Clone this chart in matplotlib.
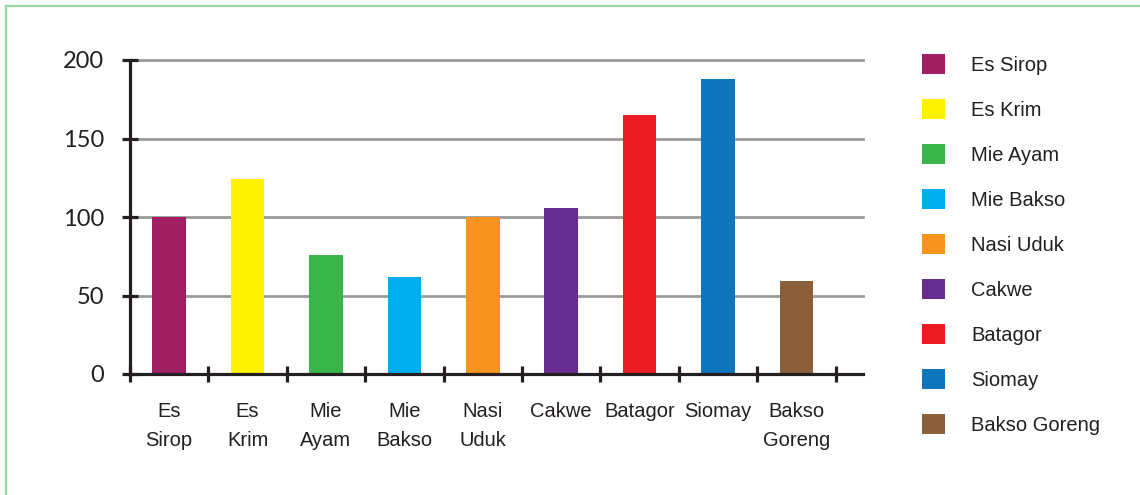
import numpy as np
import matplotlib.pyplot as plt
from matplotlib.lines import Line2D
from matplotlib import font_manager

# data
kategori = ["Es\nSirop", "Es\nKrim", "Mie\nAyam", "Mie\nBakso", "Nasi\nUduk",
            "Cakwe", "Batagor", "Siomay", "Bakso\nGoreng"]
legenda = ["Es Sirop", "Es Krim", "Mie Ayam", "Mie Bakso", "Nasi Uduk",
           "Cakwe", "Batagor", "Siomay", "Bakso Goreng"]
nilai = [100, 124, 76, 62, 100, 106, 165, 188, 59]
warna = ["#a01f62", "#fff200", "#39b54a", "#00aeef", "#f7941d",
         "#662d91", "#ed1c24", "#0f75bc", "#8b5e3c"]
yticks = [0, 50, 100, 150, 200]

# narrow font if we have it
names = {f.name for f in font_manager.fontManager.ttflist}
if "Liberation Sans Narrow" in names:
    lab_font, lab_size = "Liberation Sans Narrow", 16
else:
    lab_font, lab_size = "Liberation Sans", 14.5

W, H = 1140, 495
fig = plt.figure(figsize=(W/100, H/100), dpi=100)

# green frame (top + left only)
fig.add_artist(Line2D([5.5/W, 5.5/W], [0, 1-5.5/H], color="#98d8a0", lw=1.6, transform=fig.transFigure))
fig.add_artist(Line2D([5.5/W, 1], [1-5.5/H, 1-5.5/H], color="#98d8a0", lw=1.6, transform=fig.transFigure))

x0, x1 = 130, 863
y0, y1 = 374, 60
ax = fig.add_axes([x0/W, 1-y0/H, (x1-x0)/W, (y0-y1)/H])

n = len(nilai)
step = 78.4
xmax = (x1-x0)/step
pos = np.arange(n) + 0.5
bars = ax.bar(pos, nilai, width=0.43, color=warna, zorder=3)

ax.set_xlim(0, xmax)
ax.set_ylim(0, 200)

for v in yticks[1:]:
    ax.axhline(v, color="#9a9a9c", lw=2, zorder=1, clip_on=False)

for s in ["top", "right"]:
    ax.spines[s].set_visible(False)
for s in ["left", "bottom"]:
    ax.spines[s].set_color("#231f20")
    ax.spines[s].set_linewidth(2.3)
    ax.spines[s].set_zorder(4)

ax.set_yticks(yticks)
ax.set_yticklabels([str(v) for v in yticks], fontsize=17, family="Lato", color="#231f20")
ax.tick_params(axis="y", direction="inout", length=11, width=2.3, color="#231f20", pad=13)

# category ticks at bin edges, labels at centres
ax.set_xticks(np.arange(0, n+1))
ax.set_xticklabels([])
ax.set_xticks(pos, minor=True)
ax.set_xticklabels(kategori, minor=True, fontsize=lab_size, family=lab_font,
                   color="#231f20", linespacing=1.7)
ax.tick_params(axis="x", which="major", direction="inout", length=11, width=2.3, color="#231f20")
ax.tick_params(axis="x", which="minor", length=0, pad=20)

leg = fig.legend(bars.patches, legenda, loc="upper left",
                 bbox_to_anchor=(922/W, 1-54/H), frameon=False,
                 prop={"family": lab_font, "size": lab_size},
                 handlelength=1.15, handleheight=1.15, handletextpad=1.3,
                 labelspacing=1.2, borderpad=0, borderaxespad=0)
for t in leg.get_texts():
    t.set_color("#231f20")

fig.savefig("out.png", dpi=100)
